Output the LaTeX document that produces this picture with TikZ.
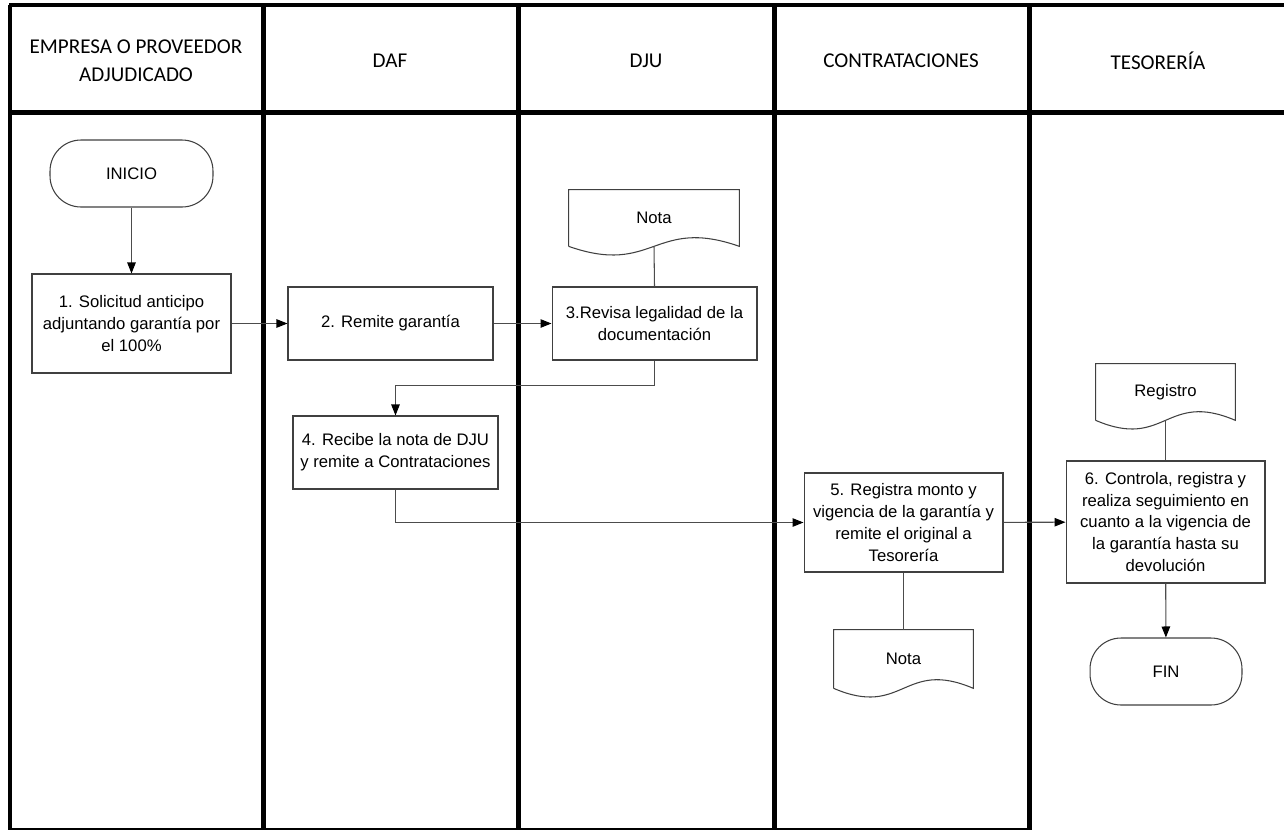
\documentclass[tikz,border=0pt]{standalone}
\usepackage{fontspec}
\setmainfont{Liberation Sans}
\newfontfamily\hdrfont{Carlito}
\usetikzlibrary{arrows.meta}

\tikzset{
  lane/.style={line width=0.1cm},
  hdr/.style={align=center, font=\hdrfont\fontsize{12}{16}\selectfont},
  proc/.style={draw=black!75, line width=0.6pt, fill=white, align=center,
    inner sep=1pt, font=\fontsize{9.5}{12.5}\selectfont},
  term/.style={proc, rounded corners=0.62cm},
  docu/.style={align=center, inner sep=0pt, font=\fontsize{9.5}{12.5}\selectfont},
  docline/.style={draw=black!75, line width=0.6pt},
  flow/.style={draw=black!70, line width=0.6pt,
    -{Triangle[length=0.22cm,width=0.17cm,color=black]}},
  link/.style={draw=black!70, line width=0.6pt}
}

\begin{document}
\begin{tikzpicture}[x=0.02cm, y=-0.02cm]
      \useasboundingbox (0,0) rectangle (1284,832);

      \draw[line width=0.08cm] (9,5)--(1284,5);
      \draw[lane] (9,112)--(1284,112);
      \draw[line width=0.08cm] (10,5)--(10,830);
      \foreach \x in {263,518,774,1029}
        \draw[lane] (\x,5)--(\x,830);
      \draw[line width=0.05cm] (9,829)--(1029,829);

      \node[hdr] (hemp) at (136,61) {EMPRESA O PROVEEDOR\\ADJUDICADO};
      \node[hdr] (hdaf) at (390,61) {DAF};
      \node[hdr] (hdju) at (646,61) {DJU};
      \node[hdr] (hcon) at (901,61) {CONTRATACIONES};
      \node[hdr] (htes) at (1158,61) {TESORERÍA};

      \node[term, minimum width=3.26cm, minimum height=1.34cm] (inicio) at (131.5,173.5) {INICIO};
      \node[proc, minimum width=3.98cm, minimum height=1.98cm] (s1) at (131.5,323.5)
        {1. Solicitud anticipo\\adjuntando garantía por\\el 100\%};
      \node[proc, minimum width=4.1cm, minimum height=1.46cm] (s2) at (390.5,323.5) {2. Remite garantía};
      \node[proc, minimum width=4.1cm, minimum height=1.46cm] (s3) at (654.5,323.5)
        {3.Revisa legalidad de la\\documentación};
      \node[docu, minimum width=3.4cm, minimum height=1.12cm] (notaA) at (654,218) {Nota};
      \node[proc, minimum width=4.1cm, minimum height=1.46cm] (s4) at (395.5,452.5)
        {4. Recibe la nota de DJU\\y remite a Contrataciones};
      \node[proc, minimum width=3.98cm, minimum height=1.98cm] (s5) at (903.5,522.5)
        {5. Registra monto y\\vigencia de la garantía y\\remite el original a\\Tesorería};
      \node[docu, minimum width=2.78cm, minimum height=1.16cm] (notaB) at (903.5,659) {Nota};
      \node[proc, minimum width=3.98cm, minimum height=2.44cm] (s6) at (1165.5,522)
        {6. Controla, registra y\\realiza seguimiento en\\cuanto a la vigencia de\\la garantía hasta su\\devolución};
      \node[docu, minimum width=2.78cm, minimum height=1.12cm] (reg) at (1165.5,392) {Registro};
      \node[term, minimum width=3.04cm, minimum height=1.34cm] (fin) at (1166,671.5) {FIN};

      \foreach \d in {notaA,notaB,reg}
        \draw[docline] (\d.south west) -- (\d.north west) -- (\d.north east) -- (\d.south east)
          .. controls ([yshift=0.6cm]\d.south) and ([yshift=-0.6cm]\d.south) .. (\d.south west);

      \draw[flow] (inicio) -- (s1);
      \draw[flow] (s1) -- (s2);
      \draw[flow] (s2) -- (s3);
      \draw[link] (notaA.south) -- (s3.north);
      \draw[flow] (s3.south) -- ++(0,25) -| (s4.north);
      \draw[flow] (s4.south) |- (s5.west);
      \draw[flow] (s5) -- (s6);
      \draw[link] (s5.south) -- (notaB.north);
      \draw[link] (reg.south) -- (s6.north);
      \draw[flow] (s6) -- (fin);
\end{tikzpicture}
\end{document}
